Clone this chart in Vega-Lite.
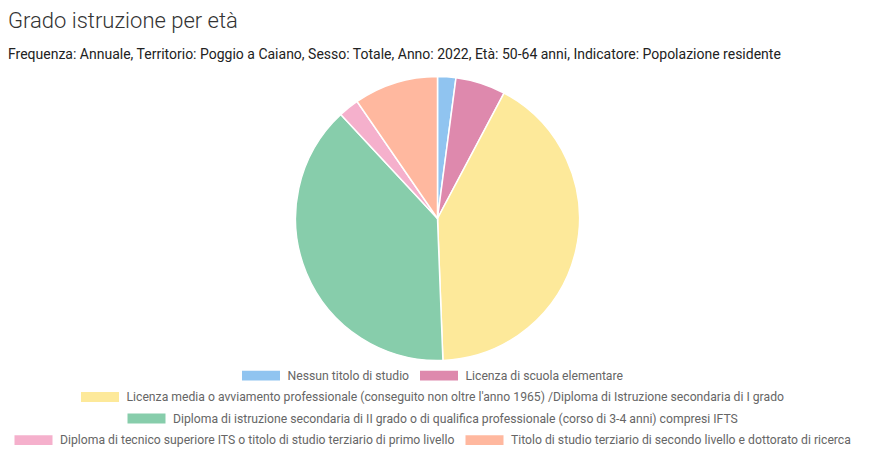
{
  "$schema": "https://vega.github.io/schema/vega-lite/v6.json",
  "width": 875,
  "height": 464,
  "autosize": {"type": "fit", "contains": "padding"},
  "padding": {"left": 0, "right": 0, "top": 10, "bottom": 17},
  "background": "white",
  "title": {
    "text": "Grado istruzione per età",
    "subtitle": "Frequenza: Annuale,  Territorio: Poggio a Caiano,  Sesso: Totale,  Anno: 2022,  Età: 50-64 anni,  Indicatore: Popolazione residente",
    "anchor": "start",
    "frame": "bounds",
    "dx": 8,
    "font": "Roboto",
    "fontSize": 22,
    "fontWeight": 300,
    "color": "#333333",
    "subtitleFont": "Roboto",
    "subtitleFontSize": 14,
    "subtitleColor": "#222222",
    "subtitlePadding": 15,
    "offset": 8
  },
  "data": {
    "values": [
      {"n": 1, "cat": "Nessun titolo di studio", "value": 48},
      {"n": 2, "cat": "Licenza di scuola elementare", "value": 131},
      {"n": 3, "cat": "Licenza media o avviamento professionale (conseguito non oltre l'anno 1965) /Diploma di Istruzione secondaria di I grado", "value": 960},
      {"n": 4, "cat": "Diploma di istruzione secondaria di II grado o di qualifica professionale (corso di 3-4 anni) compresi IFTS", "value": 892},
      {"n": 5, "cat": "Diploma di tecnico superiore ITS o titolo di studio terziario di primo livello", "value": 54},
      {"n": 6, "cat": "Titolo di studio terziario di secondo livello e dottorato di ricerca", "value": 221}
    ]
  },
  "layer": [
    {
      "mark": {"type": "arc", "outerRadius": 142, "stroke": "white", "strokeWidth": 1.5},
      "encoding": {
        "theta": {"field": "value", "type": "quantitative", "stack": true},
        "order": {"field": "n", "type": "quantitative"},
        "color": {
          "field": "cat", "type": "nominal",
          "scale": {
            "domain": [
              "Nessun titolo di studio",
              "Licenza di scuola elementare",
              "Licenza media o avviamento professionale (conseguito non oltre l'anno 1965) /Diploma di Istruzione secondaria di I grado",
              "Diploma di istruzione secondaria di II grado o di qualifica professionale (corso di 3-4 anni) compresi IFTS",
              "Diploma di tecnico superiore ITS o titolo di studio terziario di primo livello",
              "Titolo di studio terziario di secondo livello e dottorato di ricerca"
            ],
            "range": ["#90c4f0", "#de89ad", "#fde99a", "#87cdab", "#f5b0cc", "#ffb89f"]
          },
          "legend": null
        }
      }
    },
    {
      "transform": [{"filter": {"field": "cat", "oneOf": ["Nessun titolo di studio", "Licenza di scuola elementare"]}}],
      "mark": {"type": "arc", "opacity": 0},
      "encoding": {
        "theta": {"field": "value", "type": "quantitative"},
        "color": {
          "field": "cat", "type": "nominal", "sort": null,
          "scale": {"domain": ["Nessun titolo di studio", "Licenza di scuola elementare"], "range": ["#90c4f0", "#de89ad"]},
          "legend": {"orient": "bottom", "direction": "horizontal", "title": null, "symbolType": "M-2,-0.52H2V0.52H-2Z", "symbolSize": 361, "symbolStrokeWidth": 0, "symbolOpacity": 1, "labelOffset": 17, "labelFont": "Roboto", "labelFontSize": 12.2, "labelColor": "#666666", "labelLimit": 900, "columnPadding": 10, "offset": 0}
        }
      }
    },
    {
      "transform": [{"filter": {"field": "cat", "oneOf": ["Licenza media o avviamento professionale (conseguito non oltre l'anno 1965) /Diploma di Istruzione secondaria di I grado"]}}],
      "mark": {"type": "arc", "opacity": 0},
      "encoding": {
        "theta": {"field": "value", "type": "quantitative"},
        "color": {
          "field": "cat", "type": "nominal",
          "scale": {"domain": ["Licenza media o avviamento professionale (conseguito non oltre l'anno 1965) /Diploma di Istruzione secondaria di I grado"], "range": ["#fde99a"]},
          "legend": {"orient": "bottom", "direction": "horizontal", "title": null, "symbolType": "M-2,-0.52H2V0.52H-2Z", "symbolSize": 361, "symbolStrokeWidth": 0, "symbolOpacity": 1, "labelOffset": 17, "labelFont": "Roboto", "labelFontSize": 12.2, "labelColor": "#666666", "labelLimit": 900, "columnPadding": 10, "offset": 0}
        }
      }
    },
    {
      "transform": [{"filter": {"field": "cat", "oneOf": ["Diploma di istruzione secondaria di II grado o di qualifica professionale (corso di 3-4 anni) compresi IFTS"]}}],
      "mark": {"type": "arc", "opacity": 0},
      "encoding": {
        "theta": {"field": "value", "type": "quantitative"},
        "color": {
          "field": "cat", "type": "nominal",
          "scale": {"domain": ["Diploma di istruzione secondaria di II grado o di qualifica professionale (corso di 3-4 anni) compresi IFTS"], "range": ["#87cdab"]},
          "legend": {"orient": "bottom", "direction": "horizontal", "title": null, "symbolType": "M-2,-0.52H2V0.52H-2Z", "symbolSize": 361, "symbolStrokeWidth": 0, "symbolOpacity": 1, "labelOffset": 17, "labelFont": "Roboto", "labelFontSize": 12.2, "labelColor": "#666666", "labelLimit": 900, "columnPadding": 10, "offset": 0}
        }
      }
    },
    {
      "transform": [{"filter": {"field": "cat", "oneOf": ["Diploma di tecnico superiore ITS o titolo di studio terziario di primo livello", "Titolo di studio terziario di secondo livello e dottorato di ricerca"]}}],
      "mark": {"type": "arc", "opacity": 0},
      "encoding": {
        "theta": {"field": "value", "type": "quantitative"},
        "color": {
          "field": "cat", "type": "nominal",
          "scale": {"domain": ["Diploma di tecnico superiore ITS o titolo di studio terziario di primo livello", "Titolo di studio terziario di secondo livello e dottorato di ricerca"], "range": ["#f5b0cc", "#ffb89f"]},
          "legend": {"orient": "bottom", "direction": "horizontal", "title": null, "symbolType": "M-2,-0.52H2V0.52H-2Z", "symbolSize": 361, "symbolStrokeWidth": 0, "symbolOpacity": 1, "labelOffset": 17, "labelFont": "Roboto", "labelFontSize": 12.2, "labelColor": "#666666", "labelLimit": 900, "columnPadding": 10, "offset": 0}
        }
      }
    }
  ],
  "resolve": {"scale": {"color": "independent"}},
  "config": {
    "view": {"stroke": null},
    "legend": {
      "layout": {"bottom": {"anchor": "middle", "direction": "vertical", "center": true, "margin": 5.5}}
    }
  }
}
